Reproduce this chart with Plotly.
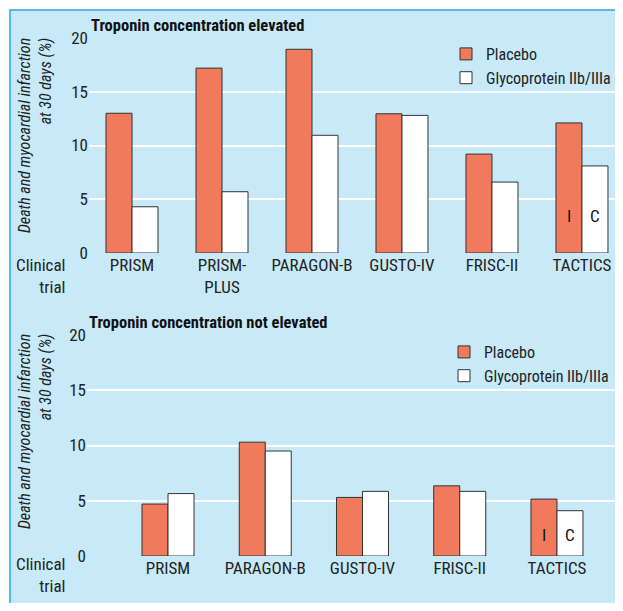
import plotly.graph_objects as go

# ---------------- data ----------------
top_trials = ["PRISM", "PRISM-<br>PLUS", "PARAGON-B", "GUSTO-IV", "FRISC-II", "TACTICS"]
top_placebo = [13.0, 17.2, 18.95, 12.95, 9.2, 12.1]
top_gp = [4.3, 5.7, 10.95, 12.8, 6.6, 8.1]

bot_trials = ["PRISM", "PARAGON-B", "GUSTO-IV", "FRISC-II", "TACTICS"]
bot_placebo = [4.7, 10.3, 5.3, 6.35, 5.15]
bot_gp = [5.65, 9.5, 5.85, 5.85, 4.1]

y_ticks = [0, 5, 10, 15, 20]
series_names = ["Placebo", "Glycoprotein IIb/IIIa"]
titles = ["Troponin concentration elevated", "Troponin concentration not elevated"]
y_title = "<i>Death and myocardial infarction<br>at 30 days (%)</i>"
x_title = "Clinical<br>trial"

# ---------------- style ----------------
OFF = 8                      # page body margin
W, H = 623 - OFF, 611 - 2 * OFF
FONT = "Liberation Sans Narrow, Arial Narrow, Roboto Condensed, Liberation Sans, sans-serif"
PANEL = "#c7e9f8"
PLOT = "#9fdaf6"
BORDER = "#2ba6df"
RED = "#f17a5c"
EDGE = "#333333"


def px(x):
    return (x - OFF) / W


def py(y):
    return 1 - (y - OFF) / H


fig = go.Figure()

top_w = 26 / 90
bot_w = 26 / 97.25

fig.add_trace(go.Bar(x=top_trials, y=top_placebo, name=series_names[0],
                     marker=dict(color=RED, line=dict(color=EDGE, width=1)),
                     width=top_w, offset=-top_w, xaxis="x", yaxis="y", legend="legend"))
fig.add_trace(go.Bar(x=top_trials, y=top_gp, name=series_names[1],
                     marker=dict(color="white", line=dict(color=EDGE, width=1)),
                     width=top_w, offset=0, xaxis="x", yaxis="y", legend="legend"))
fig.add_trace(go.Bar(x=bot_trials, y=bot_placebo, name=series_names[0],
                     marker=dict(color=RED, line=dict(color=EDGE, width=1)),
                     width=bot_w, offset=-bot_w, xaxis="x2", yaxis="y2", legend="legend2"))
fig.add_trace(go.Bar(x=bot_trials, y=bot_gp, name=series_names[1],
                     marker=dict(color="white", line=dict(color=EDGE, width=1)),
                     width=bot_w, offset=0, xaxis="x2", yaxis="y2", legend="legend2"))

axis_font = dict(family=FONT, size=17, color="#222222")

yax = dict(range=[0, 20], tickvals=y_ticks, showgrid=True, gridcolor="white", gridwidth=2,
           zeroline=False, showline=False, ticks="", tickfont=axis_font, fixedrange=True,
           automargin=False)
xax = dict(type="category", showgrid=False, zeroline=False, showline=False, ticks="",
           tickfont=axis_font, automargin=False)

leg_font = dict(family=FONT, size=16, color="#222222")

fig.update_layout(
    width=W, height=H,
    margin=dict(l=0, r=0, t=0, b=0, autoexpand=False),
    paper_bgcolor="white",
    plot_bgcolor=PLOT,
    barmode="overlay",
    showlegend=True,
    font=dict(family=FONT, color="#222222"),
    xaxis=dict(xax, domain=[px(89), 1], range=[-0.478, 5.456], anchor="y"),
    yaxis=dict(yax, domain=[py(253), py(38)], anchor="x"),
    xaxis2=dict(xax, domain=[px(87), 1], range=[-0.833, 4.679], anchor="y2"),
    yaxis2=dict(yax, domain=[py(556), py(335)], anchor="x2"),
    legend=dict(x=px(446), y=py(37), xanchor="left", yanchor="top", bgcolor="rgba(0,0,0,0)",
                font=leg_font, traceorder="normal"),
    legend2=dict(x=px(444), y=py(335), xanchor="left", yanchor="top", bgcolor="rgba(0,0,0,0)",
                 font=leg_font, traceorder="normal"),
)

# panel background
fig.add_shape(type="rect", xref="paper", yref="paper", x0=px(10), x1=1.02, y0=-0.02, y1=py(10),
              fillcolor=PANEL, line=dict(color=BORDER, width=1.5), layer="below")

# titles
for t, yc, xl in [(titles[0], 25, 89), (titles[1], 322, 87)]:
    fig.add_annotation(text="<b>" + t + "</b>", xref="paper", yref="paper", x=px(xl), y=py(yc),
                       xanchor="left", yanchor="middle", showarrow=False,
                       font=dict(family=FONT, size=16.5, color="#111111"))

# y titles
for yc in [136, 432]:
    fig.add_annotation(text=y_title, xref="paper", yref="paper", x=px(35), y=py(yc),
                       xanchor="center", yanchor="middle", textangle=-90, align="right", showarrow=False,
                       font=dict(family=FONT, size=16, color="#222222"))

# clinical trial labels
for yc in [276, 575]:
    fig.add_annotation(text=x_title, xref="paper", yref="paper", x=px(67), y=py(yc),
                       xanchor="right", yanchor="middle", align="right", showarrow=False,
                       font=dict(family=FONT, size=17, color="#222222"))

# I / C marks in TACTICS
for xr, yr, yv in [("x", "y", 3.4), ("x2", "y2", 1.9)]:
    fig.add_annotation(text="I", xref=xr, yref=yr, x="TACTICS", y=yv, xshift=-13, showarrow=False,
                       font=dict(family=FONT, size=17, color="#111111"))
    fig.add_annotation(text="C", xref=xr, yref=yr, x="TACTICS", y=yv, xshift=13, showarrow=False,
                       font=dict(family=FONT, size=17, color="#111111"))

fig.write_html("out.html")
